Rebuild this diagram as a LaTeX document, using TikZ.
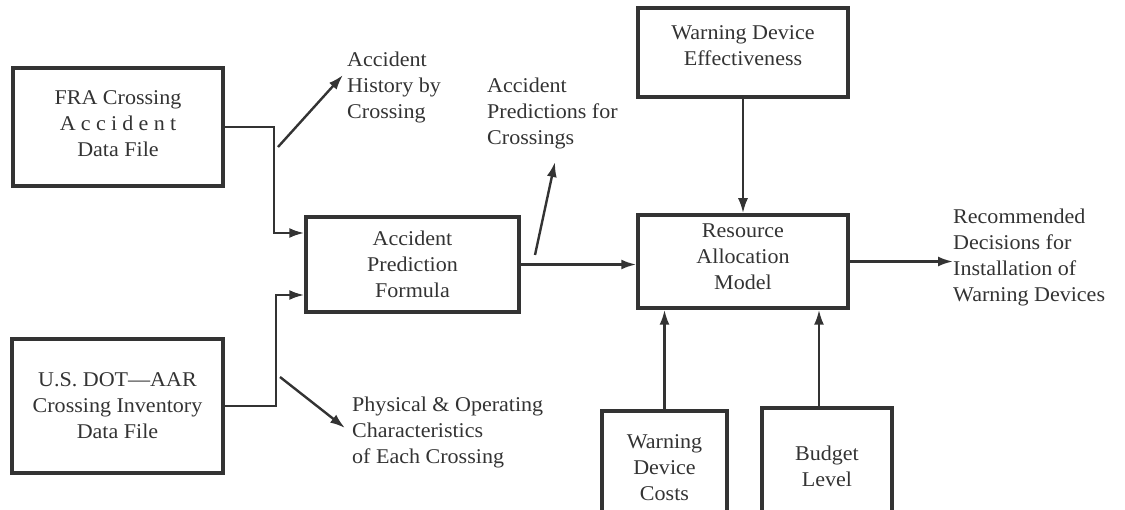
\documentclass[tikz,border=0pt]{standalone}
\usepackage{fontspec}
\setmainfont{Liberation Serif}[FakeStretch=1.05]
\usetikzlibrary{arrows.meta,calc}
\definecolor{ink}{HTML}{333333}
\begin{document}
\begin{tikzpicture}[x=1pt,y=-1pt,
  every node/.style={font=\fontsize{21}{26}\selectfont, text=ink},
  box/.style={draw=ink, line width=3.5pt, inner sep=0pt, align=center},
  lbl/.style={anchor=west, inner sep=0pt, align=left},
  arr/.style={draw=ink, line width=2.4pt, -{Latex[length=15pt,width=10pt]}},
]
\path[use as bounding box, clip] (0,0) rectangle (1125,510);

% boxes
\node[box, minimum width=210pt, minimum height=118pt, text depth=6pt] (fra) at (118,127)
  {FRA Crossing\\{\addfontfeature{LetterSpace=25}Accident}\\Data File};
\node[box, minimum width=211pt, minimum height=134pt] (dot) at (117.5,406)
  {U.S. DOT—AAR\\Crossing Inventory\\Data File};
\node[box, minimum width=213pt, minimum height=95pt] (apf) at (412.5,264.5)
  {Accident\\Prediction\\Formula};
\node[box, minimum width=210pt, minimum height=89pt, text depth=14pt] (wde) at (743,52.5)
  {Warning Device\\Effectiveness};
\node[box, minimum width=210pt, minimum height=93pt, text depth=10pt] (ram) at (743,261.5)
  {Resource\\Allocation\\Model};
\node[box, minimum width=125pt, minimum height=114pt] (wdc) at (664.5,468)
  {Warning\\Device\\Costs};
\node[box, minimum width=130pt, minimum height=117pt] (bud) at (827,466.5)
  {Budget\\Level};

% labels
\node[lbl] (hist) at (347,87) {Accident\\History by\\Crossing};
\node[lbl] (pred) at (487,113) {Accident\\Predictions for\\Crossings};
\node[lbl] (phys) at (352,432.5) {Physical \& Operating\\Characteristics\\of Each Crossing};
\node[lbl] (rec) at (953,257.5) {Recommended\\Decisions for\\Installation of\\Warning Devices};

% connectors
\draw[arr] (fra.east) -- ++(49,0) |- ([yshift=31.5pt]apf.west);
\draw[arr] (dot.east) -- ++(51,0) |- ([yshift=-30.5pt]apf.west);
\draw[arr] (apf.east) -- (apf.east -| ram.west);
\draw[arr] (wde.south) -- (ram.north);
\draw[arr] (ram.east) -- (ram.east -| rec.west);
\draw[arr] (wdc.north) -- (wdc.north |- ram.south);
\draw[arr] ([xshift=-8pt]bud.north) -- ([xshift=-8pt]bud.north |- ram.south);

% output arrows to labels
\coordinate (h0) at (278,147); \coordinate (h1) at (343,75);
\coordinate (p0) at (535,255); \coordinate (p1) at (555,162);
\coordinate (q0) at (280,377); \coordinate (q1) at (345,428);
\draw[arr] (h0) -- (h1);
\draw[arr] (p0) -- (p1);
\draw[arr] (q0) -- (q1);
\end{tikzpicture}
\end{document}
